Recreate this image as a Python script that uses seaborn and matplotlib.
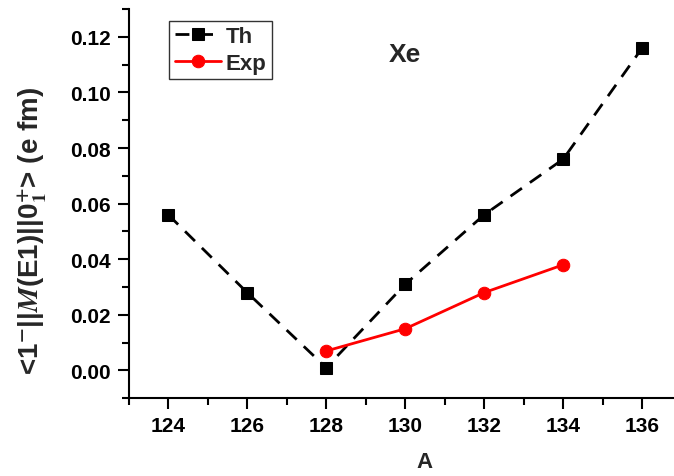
import matplotlib
matplotlib.use("Agg")
import matplotlib.pyplot as plt
import seaborn as sns
import pandas as pd
from matplotlib.ticker import MultipleLocator

# Reduced E1 matrix elements for Xe isotopes
th_A = [124, 126, 128, 130, 132, 134, 136]
th_val = [0.056, 0.028, 0.001, 0.031, 0.056, 0.076, 0.116]
exp_A = [128, 130, 132, 134]
exp_val = [0.007, 0.015, 0.028, 0.038]
y_ticks = [0.00, 0.02, 0.04, 0.06, 0.08, 0.10, 0.12]

sns.set_theme(style="ticks")
plt.rcParams["font.family"] = ["Liberation Sans", "DejaVu Sans"]
plt.rcParams["font.weight"] = "bold"

fig = plt.figure(figsize=(6.74, 4.77), dpi=100)
# x range 123..138 continues past the right edge of the canvas
ax = fig.add_axes([0.191, 0.163, 0.879, 0.816])

th = pd.DataFrame({"A": th_A, "val": th_val})
ex = pd.DataFrame({"A": exp_A, "val": exp_val})

sns.lineplot(data=th, x="A", y="val", ax=ax, color="black", linestyle=(0, (5, 3.5)),
             linewidth=2, marker="s", markersize=8.5, markeredgecolor="black",
             label="Th")
sns.lineplot(data=ex, x="A", y="val", ax=ax, color="#ff0000", linestyle="-",
             linewidth=2, marker="o", markersize=9, markeredgecolor="#ff0000",
             label="Exp")

ax.set_xlim(123, 138)
ax.set_ylim(-0.01, 0.13)
ax.xaxis.set_minor_locator(MultipleLocator(1))
ax.set_xticks([124, 126, 128, 130, 132, 134, 136])
ax.yaxis.set_minor_locator(MultipleLocator(0.01))
ax.set_yticks(y_ticks)
ax.set_yticklabels([f"{v:.2f}" for v in y_ticks])

for s in ("top", "right"):
    ax.spines[s].set_visible(False)
for s in ("left", "bottom"):
    ax.spines[s].set_linewidth(1.5)
    ax.spines[s].set_color("black")

ax.tick_params(which="major", direction="out", length=8, width=1.5,
               labelsize=15, colors="black", pad=5)
ax.tick_params(which="minor", direction="out", length=5, width=1.5, colors="black")
for lbl in ax.get_xticklabels() + ax.get_yticklabels():
    lbl.set_fontweight("bold")

ax.set_xlabel("A", fontsize=16, fontweight="bold", labelpad=11)
ylab = ax.set_ylabel(r"<1$^{\mathbf{-}}$||$\mathit{M}$(E1)||0$_{\mathbf{1}}^{\mathbf{+}}$> (e fm)",
                     fontsize=20, fontweight="bold")
ylab.set_math_fontfamily("stix")
ax.yaxis.set_label_coords(-0.135, 0.432)

ax.text(130.0, 0.1138, "Xe", fontsize=19, fontweight="bold", ha="center", va="center")

leg = ax.legend(loc="upper left", bbox_to_anchor=(0.068, 0.97), frameon=True,
                fancybox=False, edgecolor="black", fontsize=16, handlelength=2.1,
                borderpad=0.25, labelspacing=0.25, handletextpad=0.2,
                borderaxespad=0.0)
leg.get_frame().set_linewidth(1.0)
for t in leg.get_texts():
    t.set_fontweight("bold")

fig.savefig("out.png", dpi=100)
